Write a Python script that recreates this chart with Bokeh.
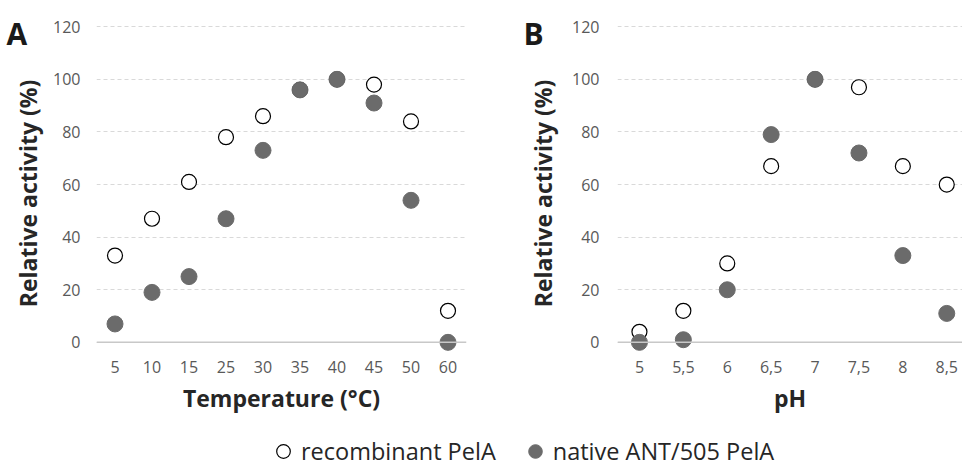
import math
from bokeh.plotting import figure
from bokeh.models import Range1d, FixedTicker, Span, Label, Legend, LegendItem
from bokeh.layouts import column, row
from bokeh.embed import file_html
from bokeh.resources import INLINE

# ---- data ----
temp_labels = ["5", "10", "15", "25", "30", "35", "40", "45", "50", "60"]
temp_recombinant = [33, 47, 61, 78, 86, 96, 100, 98, 84, 12]
temp_native = [7, 19, 25, 47, 73, 96, 100, 91, 54, 0]

ph_labels = ["5", "5,5", "6", "6,5", "7", "7,5", "8", "8,5"]
ph_recombinant = [4, 12, 30, 67, 100, 97, 67, 60]
ph_native = [0, 1, 20, 79, 100, 72, 33, 11]

y_ticks = [0, 20, 40, 60, 80, 100, 120]
y_title = "Relative activity (%)"

FONT = "Open Sans"
NATIVE = "#6b6b6b"
PANEL_H = 420


def make_gutter(width, letter, letter_x, title_x):
    g = figure(width=width, height=PANEL_H, output_backend="svg", toolbar_location=None,
               x_range=Range1d(0, 1), y_range=Range1d(0, 1), min_border=0,
               x_axis_type=None, y_axis_type=None)
    g.outline_line_color = None
    g.add_layout(Label(x=letter_x, y=33, x_units="canvas", y_units="canvas", text=letter,
                       text_font=FONT, text_font_size="30px", text_font_style="bold",
                       text_color="#1a1a1a", text_baseline="alphabetic"))
    g.add_layout(Label(x=title_x, y=193, x_units="canvas", y_units="canvas", text=y_title,
                       angle=math.pi / 2, text_align="center", text_baseline="middle",
                       text_font=FONT, text_font_size="23px", text_font_style="bold",
                       text_color="#262626"))
    return g


def make_panel(labels, rec, nat, xlabel, frame_w, left_border, right_border, x_end,
               tick_standoff):
    xs = list(range(len(labels)))
    p = figure(frame_width=frame_w, frame_height=334,
               x_range=Range1d(-0.5, x_end), y_range=Range1d(-5, 122),
               output_backend="svg", toolbar_location=None,
               min_border_left=left_border, min_border_right=right_border,
               min_border_top=21, min_border_bottom=PANEL_H - 21 - 334)
    p.outline_line_color = None
    p.xgrid.visible = False
    p.ygrid.ticker = FixedTicker(ticks=y_ticks)
    p.ygrid.grid_line_color = "#d9d9d9"
    p.ygrid.grid_line_dash = "4 3"
    p.ygrid.grid_line_width = 1
    p.add_layout(Span(location=0, dimension="width", line_color="#c8c8c8", line_width=1.5))
    p.yaxis.ticker = FixedTicker(ticks=y_ticks)
    p.xaxis.ticker = FixedTicker(ticks=xs)
    p.xaxis.major_label_overrides = {i: l for i, l in enumerate(labels)}
    for ax in (p.xaxis[0], p.yaxis[0]):
        ax.axis_line_color = None
        ax.major_tick_line_color = None
        ax.minor_tick_line_color = None
        ax.major_tick_out = 0
        ax.major_tick_in = 0
        ax.major_label_text_font = FONT
        ax.major_label_text_font_size = "16px"
        ax.major_label_text_color = "#595959"
        ax.axis_label_text_font = FONT
        ax.axis_label_text_font_size = "23px"
        ax.axis_label_text_font_style = "bold"
        ax.axis_label_text_color = "#262626"
    p.yaxis.major_label_standoff = tick_standoff
    p.xaxis.axis_label = xlabel
    p.xaxis.major_label_standoff = 5
    p.xaxis.axis_label_standoff = 6
    p.scatter(xs, rec, size=15, fill_color="white", line_color="black", line_width=1.2)
    p.scatter(xs, nat, size=16, fill_color=NATIVE, line_color=NATIVE, line_width=1)
    return p


gA = make_gutter(45, "A", 6, 27)
pA = make_panel(temp_labels, temp_recombinant, temp_native, "Temperature (°C)",
                370, 51, 14, 9.5, 16)
gB = make_gutter(80, "B", 43, 62)
pB = make_panel(ph_labels, ph_recombinant, ph_native, "pH",
                345, 57, 0, -0.5 + 345 / 43.9, 18)

# ---- legend strip ----
lf = figure(width=962, height=468 - PANEL_H, output_backend="svg", toolbar_location=None,
            x_range=Range1d(0, 1), y_range=Range1d(0, 1), min_border=0,
            x_axis_type=None, y_axis_type=None)
lf.outline_line_color = None
lxs = list(range(len(temp_labels)))
lr1 = lf.scatter(lxs, temp_recombinant, size=15, fill_color="white", line_color="black",
                 line_width=1.2, visible=False)
lr2 = lf.scatter(lxs, temp_native, size=16, fill_color=NATIVE, line_color=NATIVE,
                 line_width=1, visible=False)
legend = Legend(items=[LegendItem(label="recombinant PelA", renderers=[lr1]),
                       LegendItem(label="native ANT/505 PelA", renderers=[lr2])],
                location=(266, 0), orientation="horizontal",
                glyph_width=34, glyph_height=34, label_standoff=1, spacing=22,
                padding=0, margin=0, border_line_color=None, background_fill_alpha=0,
                inactive_fill_alpha=0, label_text_font=FONT, label_text_font_size="23.5px",
                label_text_color="#262626")
lf.add_layout(legend)

layout = column(row(gA, pA, gB, pB), lf)

open("out.html", "w").write(file_html(layout, INLINE))
